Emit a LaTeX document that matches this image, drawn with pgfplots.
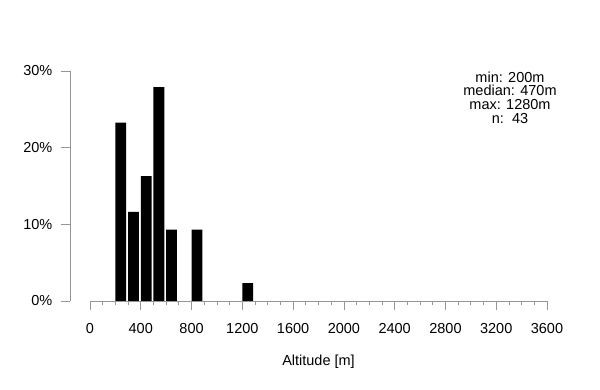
\documentclass[border=0pt]{standalone}
\usepackage{fontspec}
\setmainfont{Liberation Sans}
\usepackage{pgfplots}
\pgfplotsset{compat=1.18}
\definecolor{axgray}{RGB}{150,150,150}
\begin{document}
\fontsize{14.5bp}{16bp}\selectfont
\begin{tikzpicture}
\useasboundingbox (-70bp,-89bp) rectangle (530bp,301bp);
\begin{axis}[
  at={(0,0)}, anchor=south west,
  scale only axis,
  width=477bp, height=230bp,
  xmin=-157.5, xmax=3600,
  ymin=0, ymax=30,
  axis x line*=bottom, axis y line*=left,
  axis line style={draw=none},
  tick align=outside,
  xtick={0,400,...,3600},
  minor xtick={0,100,...,3600},
  ytick={0,10,20,30},
  yticklabels={0\%,10\%,20\%,30\%},
  major tick length=9bp,
  minor tick length=4bp,
  every tick/.style={axgray, line width=0.75bp},
  every minor tick/.style={axgray, line width=0.75bp},
  /pgf/number format/assume math mode=true,
  /pgf/number format/1000 sep={},
  ticklabel style={font=\fontsize{14.5bp}{16bp}\selectfont, inner sep=0pt},
  xticklabel style={yshift=-13bp},
  yticklabel style={xshift=-8.5bp},
  xlabel={Altitude [m]},
  xlabel style={at={(axis description cs:0.521,0)}, anchor=center, yshift=-61bp, font=\fontsize{14.5bp}{16bp}\selectfont},
  clip=false,
]
\addplot[ybar, bar width=85, bar shift=42.5, fill=black, draw=none] coordinates {
  (200,23.256) (300,11.628) (400,16.279) (500,27.907) (600,9.302) (800,9.302) (1200,2.326)
};
\draw[axgray, line width=0.75bp] (axis cs:0,0) -- (axis cs:3600,0);
\draw[axgray, line width=0.75bp] (axis cs:-157.5,0) -- (axis cs:-157.5,30);
\end{axis}
\node[align=center, anchor=center, inner sep=0pt, font=\fontsize{14.5bp}{13.8bp}\selectfont] at (440bp,203.3bp) {min: 200m\\median: 470m\\max: 1280m\\n:\ \ 43};
\end{tikzpicture}
\end{document}
